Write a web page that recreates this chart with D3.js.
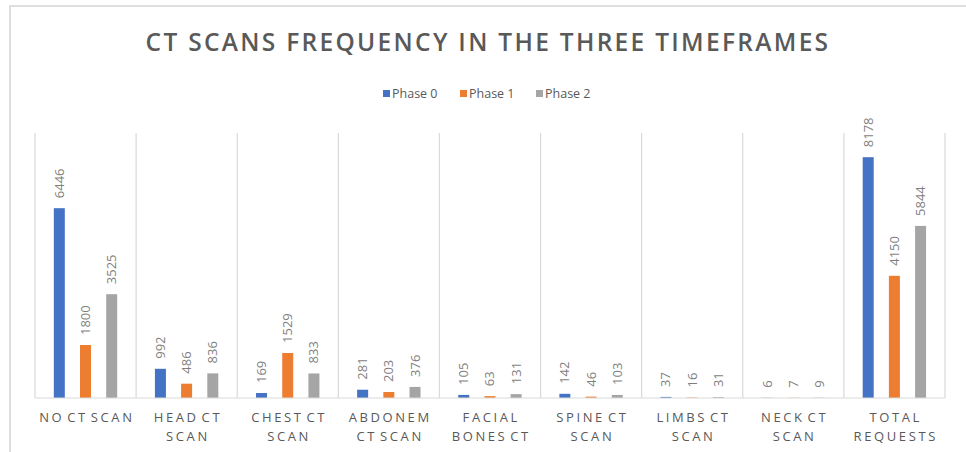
<!DOCTYPE html>
<html>
<head>
<meta charset="utf-8">
<script src="https://cdn.jsdelivr.net/npm/d3@7"></script>
<style>
  body { margin: 0; background: #fff; }
  text { font-family: "Open Sans", sans-serif; }
</style>
</head>
<body>
<div id="chart"></div>
<script>
// chart values
var categories = [
    ["NO CT SCAN"],
    ["HEAD CT", "SCAN"],
    ["CHEST CT", "SCAN"],
    ["ABDONEM", "CT SCAN"],
    ["FACIAL", "BONES CT"],
    ["SPINE CT", "SCAN"],
    ["LIMBS CT", "SCAN"],
    ["NECK CT", "SCAN"],
    ["TOTAL", "REQUESTS"]
];
var seriesNames = ["Phase 0", "Phase 1", "Phase 2"];
var phase0 = [6446, 992, 169, 281, 105, 142, 37, 6, 8178];
var phase1 = [1800, 486, 1529, 203, 63, 46, 16, 7, 4150];
var phase2 = [3525, 836, 833, 376, 131, 103, 31, 9, 5844];
var colors = ["#4472C4", "#ED7D31", "#A5A5A5"];

function render() {
    const width = 966;
    const height = 452;
    const series = [phase0, phase1, phase2];

    const svg = d3.select("#chart")
        .append("svg")
        .attr("width", width)
        .attr("height", height);

    // chart border (top and left visible)
    svg.append("path")
        .attr("d", "M10,452 L10,6 L966,6")
        .attr("fill", "none")
        .attr("stroke", "#dedede")
        .attr("stroke-width", 2);

    svg.append("text")
        .attr("x", 488)
        .attr("y", 51)
        .attr("text-anchor", "middle")
        .style("font-size", "24.5px")
        .style("font-weight", "600")
        .style("letter-spacing", "2.3px")
        .style("fill", "#595959")
        .text("CT SCANS FREQUENCY IN THE THREE TIMEFRAMES");

    // legend
    const legendX = [383, 460, 536];
    const legend = svg.selectAll(".legend")
        .data(seriesNames)
        .enter()
        .append("g")
        .attr("transform", (d, i) => `translate(${legendX[i]}, 94)`);
    legend.append("rect")
        .attr("x", 0).attr("y", -4)
        .attr("width", 7).attr("height", 7)
        .attr("fill", (d, i) => colors[i]);
    legend.append("text")
        .attr("x", 9)
        .attr("y", 4)
        .style("font-size", "12.5px")
        .style("fill", "#595959")
        .text(d => d);

    const x0 = d3.scaleBand()
        .domain(d3.range(categories.length))
        .range([35, 945])
        .paddingInner(0)
        .paddingOuter(0);

    const x1 = d3.scaleBand()
        .domain(d3.range(seriesNames.length))
        .range([23, 78])
        .paddingInner(0.9)
        .paddingOuter(0);

    const y = d3.scaleLinear()
        .domain([0, 9000])
        .range([398, 133]);

    // category separators
    svg.selectAll(".sep")
        .data(d3.range(categories.length + 1))
        .enter()
        .append("line")
        .attr("x1", d => 35 + d * x0.step())
        .attr("x2", d => 35 + d * x0.step())
        .attr("y1", y.range()[1])
        .attr("y2", y(0))
        .attr("stroke", "#d9d9d9")
        .attr("stroke-width", 1.2);

    const groups = svg.selectAll(".grp")
        .data(categories)
        .enter()
        .append("g")
        .attr("transform", (d, i) => `translate(${x0(i)}, 0)`);

    const barW = 11;
    groups.each(function (cat, ci) {
        const g = d3.select(this);
        series.forEach((vals, si) => {
            const cx = x1(si) + x1.bandwidth() / 2;
            g.append("rect")
                .attr("x", cx - barW / 2)
                .attr("y", y(vals[ci]))
                .attr("width", barW)
                .attr("height", y(0) - y(vals[ci]))
                .attr("fill", colors[si]);
            g.append("text")
                .attr("transform", `translate(${cx + 4.5}, ${y(vals[ci]) - 10}) rotate(-90)`)
                .style("font-size", "13px")
                .style("fill", "#7f7f7f")
                .text(vals[ci]);
        });
    });

    // baseline
    svg.append("line")
        .attr("x1", 35).attr("x2", 945)
        .attr("y1", y(0)).attr("y2", y(0))
        .attr("stroke", "#d9d9d9")
        .attr("stroke-width", 1.2);

    // category labels
    groups.each(function (cat) {
        const t = d3.select(this).append("text")
            .attr("text-anchor", "middle")
            .style("font-size", "13px")
            .style("letter-spacing", "2.6px")
            .style("word-spacing", "-3px")
            .style("fill", "#595959");
        cat.forEach((line, li) => {
            t.append("tspan")
                .attr("x", x0.bandwidth() / 2 + 1.3)
                .attr("y", 422 + li * 18.5)
                .text(line);
        });
    });
}

render();
</script>
</body>
</html>
